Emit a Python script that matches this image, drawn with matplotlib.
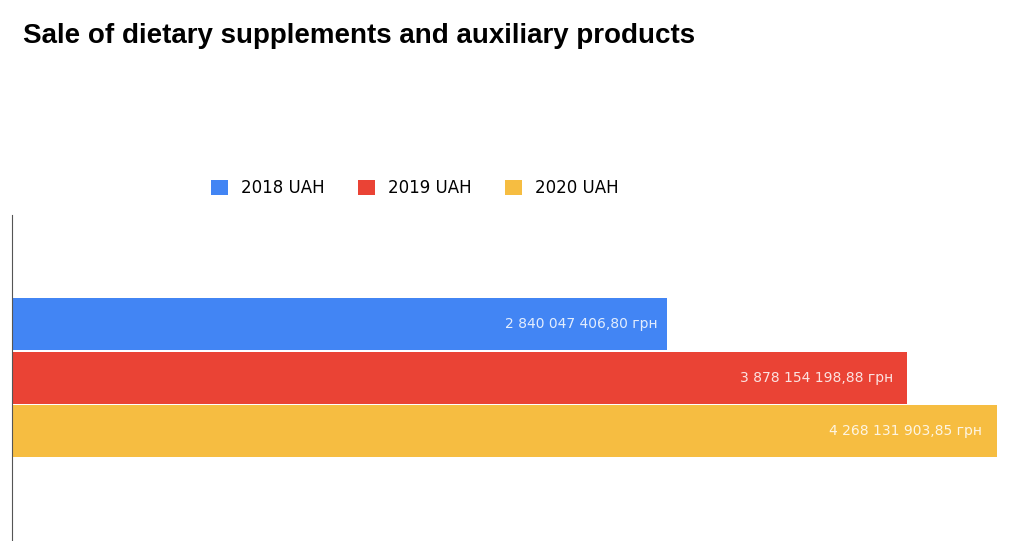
import matplotlib.pyplot as plt

# Data
series = ["2018 UAH", "2019 UAH", "2020 UAH"]
values = [2840047406.80, 3878154198.88, 4268131903.85]
labels = ["2 840 047 406,80 грн", "3 878 154 198,88 грн", "4 268 131 903,85 грн"]
colors = ["#4285f4", "#ea4335", "#f6bd41"]

fig = plt.figure(figsize=(10.24, 5.41), dpi=100)
fig.text(0.022, 0.92, "Sale of dietary supplements and auxiliary products",
         fontsize=20, fontweight="bold", family="Liberation Sans")

ax = fig.add_axes([0.0117, 0.0, 0.962, 0.603])
ypos = [1.0, 0.0, -1.0]
for name, v, lab, c, y in zip(series, values, labels, colors, ypos):
    ax.barh(y, v, height=0.97, color=c, label=name)
    ax.text(v * 0.985, y, lab, ha="right", va="center", color="white",
            fontsize=10, alpha=0.85)

ax.set_xlim(0, values[2])
ax.set_ylim(-3.05, 3.05)
for s in ["top", "right", "bottom"]:
    ax.spines[s].set_visible(False)
ax.spines["left"].set_color("#555555")
ax.set_xticks([])
ax.set_yticks([])

fig.legend(loc="center", bbox_to_anchor=(0.405, 0.652), ncol=3, frameon=False,
           fontsize=12, handlelength=1.0, handleheight=1.0, columnspacing=2.0)

fig.savefig("out.png", dpi=100)
